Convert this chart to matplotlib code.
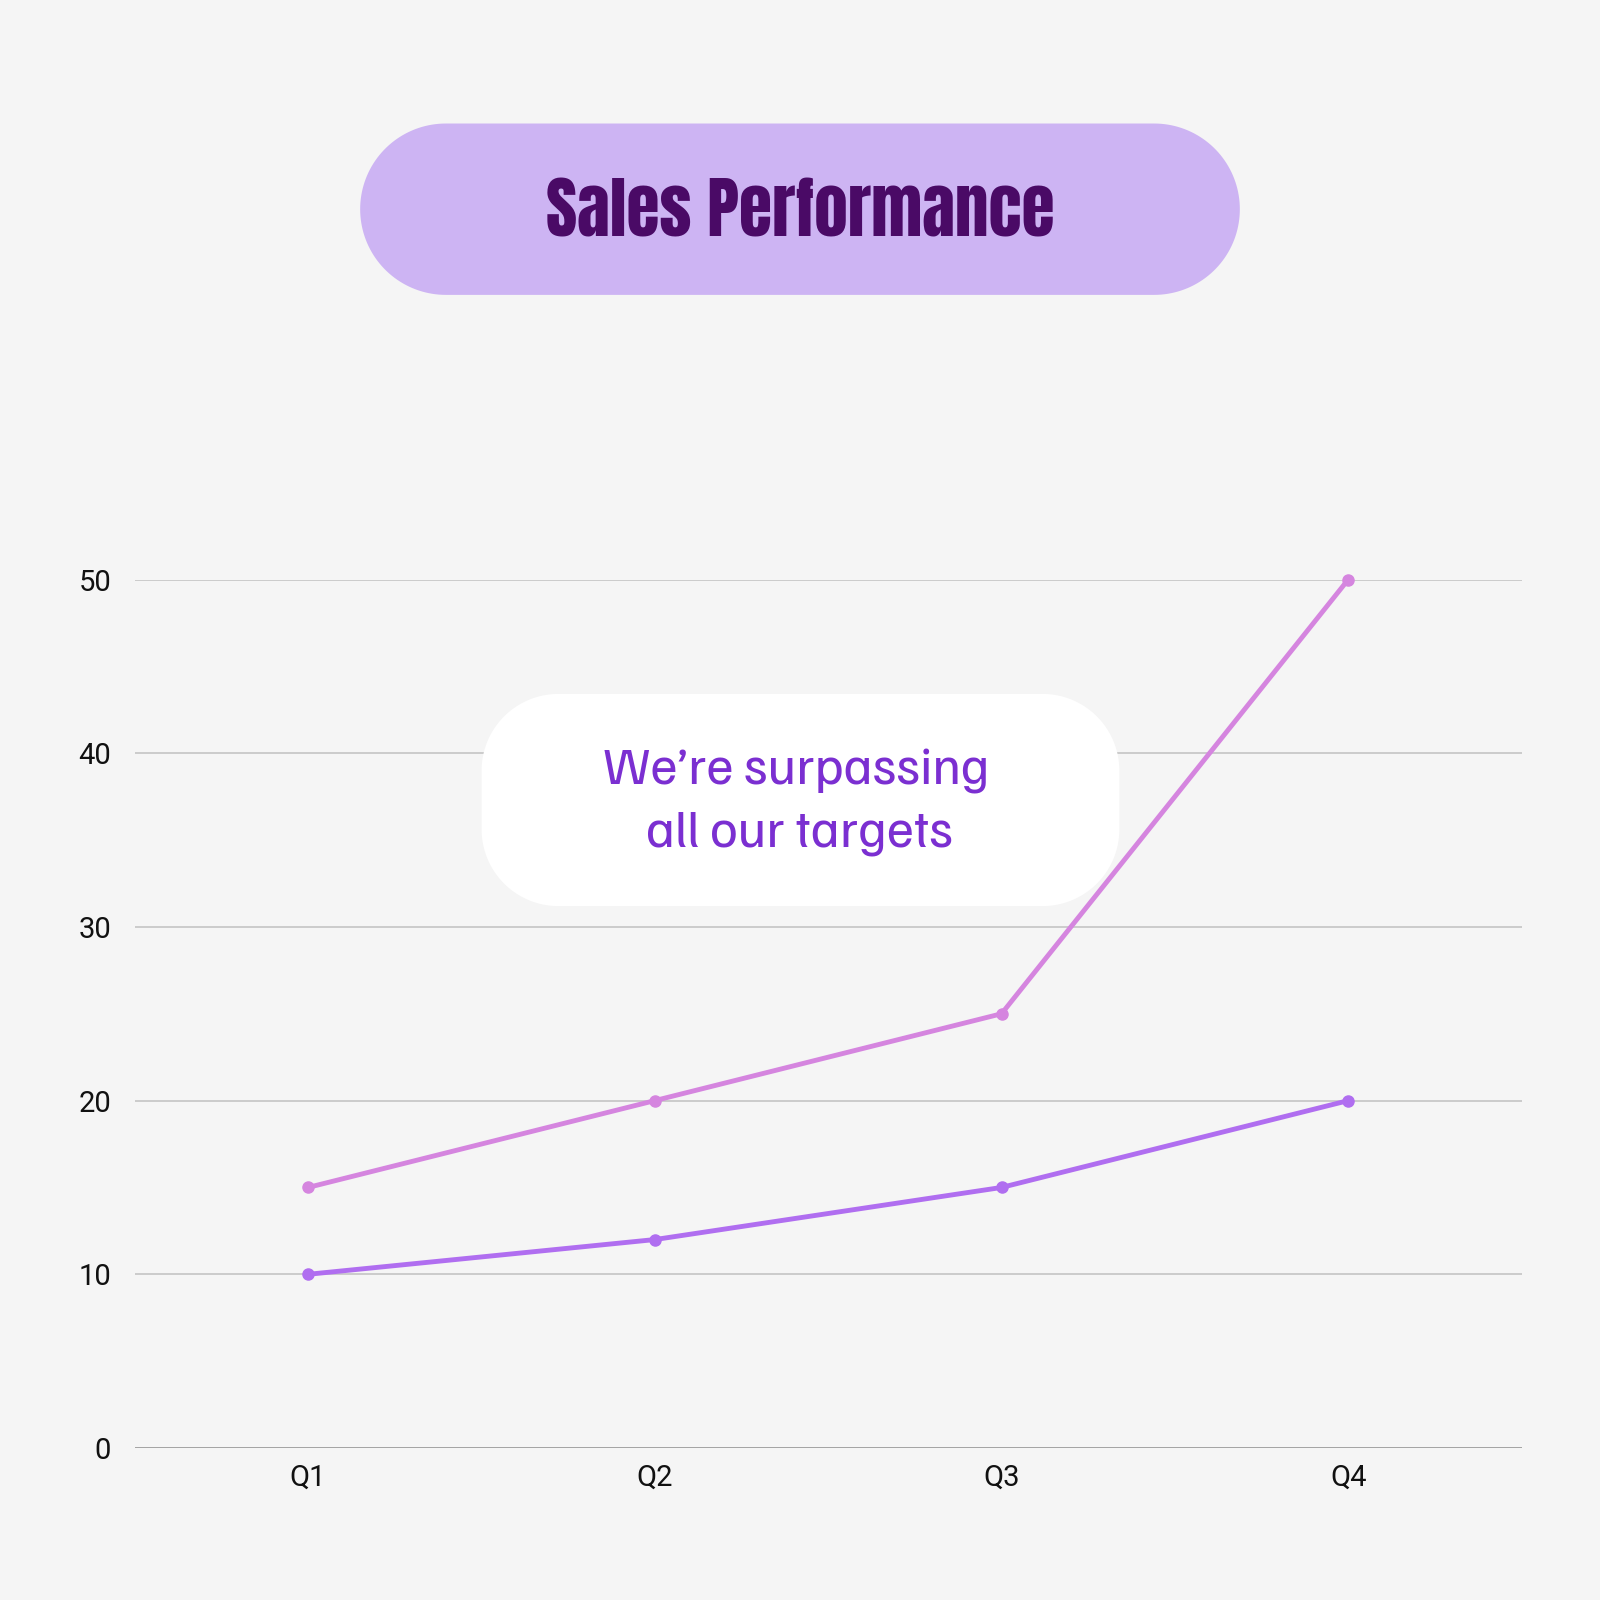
import numpy as np
import matplotlib as mpl
mpl.use('Agg')
import matplotlib.pyplot as plt
from matplotlib.patches import Polygon

# data
quarters = ["Q1", "Q2", "Q3", "Q4"]
upper_series = [15, 20, 25, 50]
lower_series = [10, 12, 15, 20]
y_ticks = [0, 10, 20, 30, 40, 50]

title_text = "Sales Performance"
callout_lines = ["We\u2019re surpassing", "all our targets"]

bg = "#f5f5f5"


def rounded_rect(x0, y0, w, h, r, n=40):
    # corner centres, going round counter-clockwise
    pts = []
    for cx, cy, a0 in [(x0 + w - r, y0 + h - r, 0), (x0 + r, y0 + h - r, 90),
                       (x0 + r, y0 + r, 180), (x0 + w - r, y0 + r, 270)]:
        t = np.radians(np.linspace(a0, a0 + 90, n))
        pts.append(np.column_stack([cx + r * np.cos(t), cy + r * np.sin(t)]))
    return np.vstack(pts)


fig = plt.figure(figsize=(16, 16), dpi=100, facecolor=bg)

# the chart
ax = fig.add_axes([0.0842, 0.0950, 0.8668, 0.5428])
ax.set_facecolor(bg)
x = np.arange(len(quarters))
ax.plot(x, upper_series, color="#d585df", lw=3.5, marker="o", ms=8, zorder=3, clip_on=False)
ax.plot(x, lower_series, color="#b06ef0", lw=3.5, marker="o", ms=8, zorder=3, clip_on=False)
ax.set_xlim(-0.5, 3.5)
ax.set_ylim(0, 50)
ax.set_yticks(y_ticks)
ax.set_xticks(x)
ax.set_xticklabels(quarters)
for v in y_ticks[1:]:
    ax.axhline(v, color="#c4c4c4", lw=1.2, zorder=1)
ax.axhline(0, color="#9c9c9c", lw=2, zorder=1)
for s in ax.spines.values():
    s.set_visible(False)
ax.tick_params(length=0, labelsize=21, labelcolor="#111111")
ax.tick_params(axis="y", pad=17)
ax.tick_params(axis="x", pad=11)
for lab in ax.get_xticklabels() + ax.get_yticklabels():
    lab.set_fontfamily("Roboto")

# overlay for the rounded boxes, figure fraction coordinates
ov = fig.add_axes([0, 0, 1, 1], zorder=2)
ov.set_xlim(0, 1)
ov.set_ylim(0, 1)
ov.set_axis_off()

ov.add_patch(Polygon(rounded_rect(0.2251, 0.8157, 0.5498, 0.1071, 0.05355),
                     closed=True, facecolor="#cdb4f3", edgecolor="none"))
ov.add_patch(Polygon(rounded_rect(0.3010, 0.4337, 0.3986, 0.1326, 0.048),
                     closed=True, facecolor="white", edgecolor="none"))

fig.text(0.5, 0.8520, title_text, ha="center", va="baseline", fontsize=48.5,
         color="#4a0a66", family="Anton", zorder=5)

fig.text(0.4975, 0.5100, callout_lines[0], ha="center", va="baseline", fontsize=38,
         color="#7b2fd1", family="Familjen Grotesk", zorder=5)
fig.text(0.4995, 0.4712, callout_lines[1], ha="center", va="baseline", fontsize=38,
         color="#7b2fd1", family="Familjen Grotesk", zorder=5)

fig.savefig("out.png", dpi=100, facecolor=bg)
